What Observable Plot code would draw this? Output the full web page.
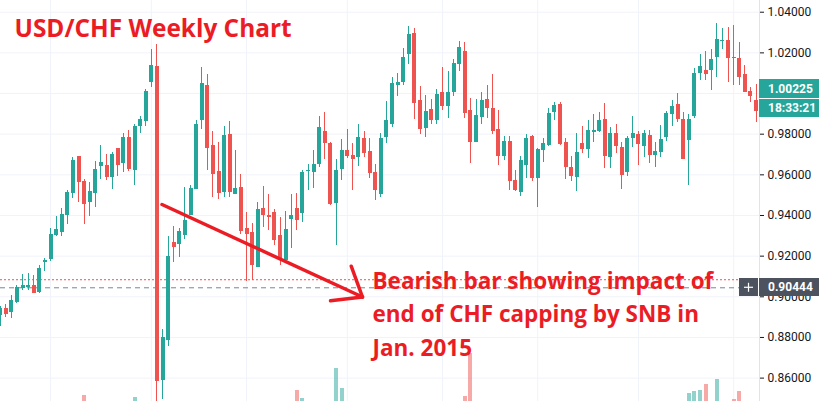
<!DOCTYPE html>
<html><head><meta charset="utf-8">
<script src="https://cdn.jsdelivr.net/npm/d3@7"></script>
<script src="https://cdn.jsdelivr.net/npm/@observablehq/plot@0.6"></script>
<style>html,body{margin:0;padding:0;background:#fff;} #chart svg{display:block}</style>
</head><body><div id="chart"></div>
<script>
// Weekly USD/CHF candles (index 0 = week of 30 Jun 2014)
const open  = [.8907,.8944,.8925,.8972,.9040,.9046,.9056,.9023,.9170,.9184,.9302,.9317,.9400,.9508,.9690,.9567,.9464,.9508,.9641,.9646,.9589,.9730,.9657,.9784,.9621,.9838,.9862,1.0055,1.0133,.8588,.8785,.9267,.9257,.9302,.9400,.9528,.9867,1.0040,.9744,.9617,.9513,.9798,.9503,.9538,.9336,.9317,.9146,.9435,.9399,.9415,.9302,.9179,.9380,.9433,.9411,.9614,.9612,.9649,.9813,.9756,.9461,.9626,.9720,.9695,.9687,.9780,.9715,.9612,.9503,.9785,.9848,1.0041,1.0056,1.0194,1.0295,.9966,.9829,.9921,.9867,1.0005,.9936,1.0005,1.0143,1.0207,.9917,.9759,.9882,.9971,.9926,.9823,.9690,.9764,.9572,.9513,.9646,.9789,.9582,.9720,.9744,.9907,.9946,.9759,.9636,.9587,.9754,.9725,.9808,.9813,.9872,.9685,.9803,.9735,.9612,.9780,.9799,.9739,.9794,.9695,.9710,.9785,.9897,.9946,.9872,.9769,.9887,1.0099,1.0113,1.0113,1.0177,1.0257,1.0261,1.0177,1.0172,1.0094,1.0010,.9966];
const high  = [.8952,.8962,.9007,.9056,.9110,.9115,.9105,.9154,.9188,.9335,.9396,.9435,.9525,.9685,.9690,.9577,.9562,.9666,.9744,.9700,.9710,.9730,.9803,.9818,.9848,.9887,1.0020,1.0217,1.0241,.8839,.9296,.9346,.9336,.9539,.9548,.9867,1.0128,1.0096,.9813,.9759,.9838,.9862,.9720,.9602,.9415,.9361,.9466,.9543,.9502,.9430,.9392,.9422,.9502,.9510,.9621,.9649,.9720,.9887,.9907,.9758,.9676,.9774,.9823,.9753,.9848,.9813,.9780,.9649,.9802,.9961,1.0078,1.0099,1.0222,1.0330,1.0320,1.0035,.9990,.9971,1.0020,1.0128,1.0108,1.0167,1.0256,1.0251,.9976,.9971,1.0005,1.0040,1.0094,.9917,.9789,.9789,.9621,.9690,.9799,.9794,.9730,.9779,.9926,.9956,.9956,.9779,.9690,.9803,.9838,.9867,.9897,.9907,.9951,.9833,.9848,.9759,.9789,.9887,.9813,.9818,.9818,.9759,.9843,.9912,.9966,1.0000,.9907,.9897,1.0123,1.0192,1.0207,1.0217,1.0345,1.0320,1.0325,1.0335,1.0251,1.0138,1.0030,1.0044];
const low   = [.8856,.8900,.8895,.8966,.9033,.9033,.9016,.9016,.9126,.9175,.9297,.9297,.9354,.9485,.9464,.9357,.9397,.9441,.9577,.9574,.9530,.9594,.9612,.9616,.9548,.9803,.9838,1.0030,.7400,.8495,.8757,.9169,.9193,.9282,.9398,.9526,.9823,.9621,.9489,.9479,.9489,.9489,.9501,.9307,.9075,.9080,.9144,.9343,.9326,.9253,.9154,.9175,.9236,.9326,.9367,.9523,.9531,.9638,.9675,.9449,.9253,.9572,.9679,.9523,.9643,.9687,.9581,.9474,.9490,.9756,.9831,.9985,1.0041,1.0144,.9872,.9799,.9785,.9848,.9848,.9917,.9877,.9985,1.0108,.9877,.9656,.9757,.9848,.9877,.9799,.9646,.9671,.9523,.9518,.9494,.9582,.9567,.9439,.9661,.9739,.9867,.9744,.9577,.9567,.9518,.9705,.9680,.9759,.9808,.9631,.9631,.9705,.9528,.9592,.9736,.9646,.9687,.9657,.9638,.9687,.9766,.9838,.9857,.9674,.9548,.9877,1.0064,1.0064,1.0015,1.0079,1.0217,1.0055,1.0040,1.0040,1.0004,.9956,.9857];
const close = [.8944,.8913,.8982,.9046,.9056,.9056,.9018,.9139,.9180,.9307,.9331,.9406,.9513,.9671,.9562,.9456,.9518,.9626,.9661,.9589,.9700,.9646,.9784,.9625,.9838,.9872,1.0011,1.0139,.8581,.8800,.9198,.9243,.9321,.9375,.9533,.9848,1.0049,.9730,.9602,.9508,.9794,.9513,.9533,.9321,.9307,.9154,.9430,.9400,.9392,.9277,.9182,.9330,.9400,.9375,.9612,.9621,.9651,.9835,.9756,.9454,.9621,.9720,.9690,.9675,.9785,.9707,.9605,.9523,.9777,.9867,1.0049,1.0054,1.0177,1.0290,.9951,.9823,.9912,.9867,.9995,.9936,1.0005,1.0148,1.0226,.9902,.9759,.9892,.9966,.9926,.9813,.9690,.9764,.9567,.9523,.9671,.9779,.9582,.9725,.9754,.9902,.9941,.9749,.9636,.9592,.9710,.9725,.9818,.9818,.9867,.9690,.9803,.9739,.9597,.9779,.9803,.9749,.9803,.9695,.9715,.9774,.9902,.9936,.9872,.9676,.9872,1.0099,1.0133,1.0094,1.0167,1.0266,1.0261,1.0172,1.0172,1.0079,1.0005,.9985,.9912];

// Visible (tallest) volume bars: week index and relative volume
const volIdx = [15, 24, 53, 54, 60, 61, 83, 84, 123, 124, 125, 126, 128, 131, 132];
const volVal = [60, 43, 110, 33, 333, 133, 53, 477, 83, 100, 110, 173, 220, 20, 103];

const yTicks = [0.86, 0.88, 0.90, 0.92, 0.94, 0.96, 0.98, 1.00, 1.02, 1.04];
const yTickLabels = [0.86, 0.88, 0.90, 0.92, 0.94, 0.96, 0.98, 1.02, 1.04]; // 1.00000 sits under the price label
const gridWeeks = [9, 27, 44, 62, 79, 96, 114, 131]; // Sep 2014, Jan 2015, May, Sep, Jan 2016, May, Sep, Jan 2017

const lastPrice = 1.00225;
const countdown = "18:33:21";
const crossPrice = 0.90444;
const alertPrice = 0.9084;

const titleText = "USD/CHF Weekly Chart";
const noteLines = ["Bearish bar showing impact of", "end of CHF capping by SNB in", "Jan. 2015"];
const notePos = [{x: 66.5, y: 0.8711}];
const arrowSegs = [
  {x1: 28.91, y1: 0.94541, x2: 64.71, y2: 0.89991},
  {x1: 62.70, y1: 0.91506, x2: 64.71, y2: 0.89991},
  {x1: 59.00, y1: 0.89804, x2: 64.71, y2: 0.89991}
];

const UP = "#26a69a", DOWN = "#ef5350", RED = "#ec1c24";
const yMin = 0.8485, yMax = 1.04576;

const candles = open.map((o, i) => ({i, o, h: high[i], l: low[i], c: close[i], up: close[i] >= o}));
const vols = volIdx.map((i, k) => ({i, v: volVal[k], up: close[i] >= open[i]}));
const volK = (yMax - yMin) / 4010;

const chart = Plot.plot({
  width: 822, height: 401,
  marginLeft: 0, marginRight: 63, marginTop: 0, marginBottom: 0,
  style: {fontFamily: "Roboto, sans-serif", background: "#fff"},
  x: {type: "linear", domain: [0.07, 135.61], axis: null},
  y: {domain: [yMin, yMax]},
  marks: [
    Plot.gridY(yTicks, {stroke: "#f0f3fa", strokeOpacity: 1}),
    Plot.ruleX(gridWeeks, {stroke: "#f0f3fa", strokeOpacity: 1}),
    Plot.ruleX(vols, {x: "i", y1: () => yMin, y2: d => yMin + d.v * volK, stroke: d => d.up ? "rgba(38,166,154,0.5)" : "rgba(239,83,80,0.5)", strokeWidth: 4, shapeRendering: "crispEdges"}),
    Plot.ruleY([alertPrice], {stroke: DOWN, strokeDasharray: "2,2", strokeWidth: 1}),
    Plot.ruleY([crossPrice], {stroke: "#758696", strokeDasharray: "5,4", strokeWidth: 1}),
    Plot.ruleX(candles, {x: "i", y1: "l", y2: "h", stroke: d => d.up ? UP : DOWN, strokeWidth: 1, clip: true, shapeRendering: "crispEdges"}),
    Plot.ruleX(candles, {x: "i", y1: "o", y2: "c", stroke: d => d.up ? UP : DOWN, strokeWidth: 4, clip: true, shapeRendering: "crispEdges"}),
    Plot.axisY(yTickLabels, {anchor: "right", tickFormat: d3.format(".5f"), tickSize: 4, tickPadding: 4, fontSize: 12, color: "#131722"}),
    Plot.link(arrowSegs, {x1: "x1", y1: "y1", x2: "x2", y2: "y2", stroke: RED, strokeWidth: 3.5, strokeLinecap: "round"}),
    Plot.text([titleText], {frameAnchor: "top-left", dx: 14, dy: 36, lineAnchor: "bottom", textAnchor: "start", fontSize: 24.4, fontWeight: "bold", fontFamily: "Open Sans", fill: RED}),
    Plot.text(notePos, {x: "x", y: "y", text: () => noteLines.join("\n"), lineAnchor: "bottom", textAnchor: "start", lineHeight: 1.49, fontSize: 22.5, fontWeight: "bold", fontFamily: "Open Sans", fill: RED})
  ]
});
document.getElementById("chart").appendChild(chart);

// TradingView-style price labels, positioned through the chart's own scales
const sx = chart.scale("x"), sy = chart.scale("y");
const ys = d3.scaleLinear(sy.domain, sy.range);
const xr = sx.range[1];
const svg = d3.select(chart);
const g = svg.append("g").attr("font-family", "Roboto, sans-serif").attr("font-size", 12).attr("text-anchor", "start");
g.append("line").attr("x1", xr + 0.5).attr("x2", xr + 0.5).attr("y1", 0).attr("y2", 401).attr("stroke", "#e0e3eb");
const yp = ys(lastPrice);
g.append("rect").attr("x", xr).attr("y", Math.round(yp - 9.5)).attr("width", 60).attr("height", 19).attr("fill", UP);
g.append("text").attr("x", xr + 9).attr("y", yp).attr("dy", "0.35em").attr("fill", "#fff").attr("font-weight", "bold").text(d3.format(".5f")(lastPrice));
g.append("rect").attr("x", xr).attr("y", Math.round(yp + 10.5)).attr("width", 60).attr("height", 18).attr("fill", UP);
g.append("text").attr("x", xr + 9).attr("y", yp + 19.5).attr("dy", "0.35em").attr("fill", "#fff").attr("font-weight", "bold").text(countdown);
const yc = ys(crossPrice);
g.append("rect").attr("x", xr - 20).attr("y", Math.round(yc - 9)).attr("width", 80).attr("height", 18).attr("fill", "#4c525e");
g.append("line").attr("x1", xr - 0.5).attr("x2", xr - 0.5).attr("y1", Math.round(yc - 9)).attr("y2", Math.round(yc + 9)).attr("stroke", "#fff");
g.append("line").attr("x1", xr - 15).attr("x2", xr - 6).attr("y1", yc).attr("y2", yc).attr("stroke", "#fff").attr("stroke-width", 1.2);
g.append("line").attr("x1", xr - 10.5).attr("x2", xr - 10.5).attr("y1", yc - 4.5).attr("y2", yc + 4.5).attr("stroke", "#fff").attr("stroke-width", 1.2);
g.append("text").attr("x", xr + 9).attr("y", yc).attr("dy", "0.35em").attr("fill", "#fff").attr("font-weight", "bold").text(d3.format(".5f")(crossPrice));
</script>
</body></html>
